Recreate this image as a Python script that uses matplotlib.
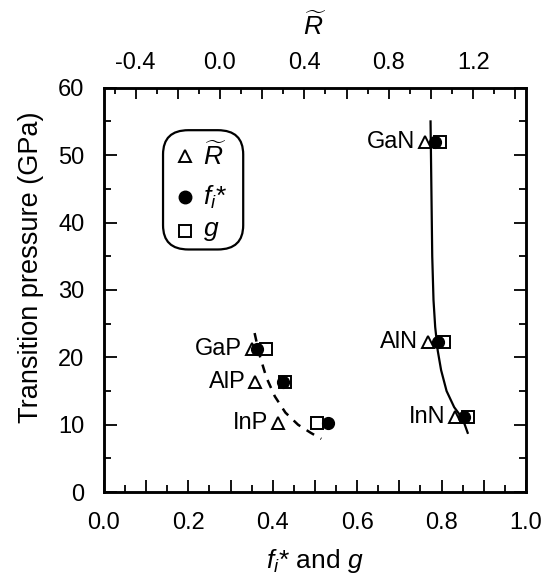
import numpy as np
import matplotlib.pyplot as plt
from matplotlib.ticker import MultipleLocator, FuncFormatter
from matplotlib.patches import FancyBboxPatch

plt.rcParams['font.family'] = ['Liberation Sans', 'DejaVu Sans']
plt.rcParams['mathtext.fontset'] = 'custom'
plt.rcParams['mathtext.it'] = 'Liberation Sans:italic'
plt.rcParams['mathtext.rm'] = 'Liberation Sans'

# --- data ---
compounds = ['GaN', 'AlN', 'InN', 'GaP', 'AlP', 'InP']
pressure = [51.9, 22.2, 11.1, 21.2, 16.3, 10.2]      # GPa
fi_star = [0.785, 0.792, 0.853, 0.363, 0.424, 0.531]
g_val = [0.796, 0.806, 0.863, 0.384, 0.430, 0.505]
r_tilde = [0.97, 0.986, 1.113, 0.151, 0.166, 0.275]

# solid guide curve (nitrides) and dashed guide curve (phosphides)
nitride_x = [0.774, 0.776, 0.778, 0.781, 0.785, 0.791, 0.799, 0.812, 0.830, 0.850, 0.862]
nitride_p = [55.0, 45.0, 35.0, 28.5, 24.5, 21.0, 18.1, 15.0, 12.6, 10.9, 8.8]
phos_x = [0.357, 0.368, 0.385, 0.405, 0.430, 0.460, 0.490, 0.515]
phos_p = [23.6, 20.5, 17.0, 14.2, 11.8, 10.0, 8.8, 7.9]

fig = plt.figure(figsize=(5.53, 5.81), dpi=100)
ax = fig.add_axes([0.188, 0.153, 0.763, 0.696])
ax2 = ax.twiny()

lw = 1.8
for a in (ax, ax2):
    for s in a.spines.values():
        s.set_linewidth(lw)

ax.plot(nitride_x, nitride_p, '-', color='black', lw=1.6)
ax.plot(phos_x, phos_p, '--', color='black', lw=1.8, dashes=(3.5, 3))

ax.plot(g_val, pressure, 's', mfc='white', mec='black', mew=1.4, ms=8, ls='none')
ax.plot(fi_star, pressure, 'o', color='black', ms=8.5, ls='none')
ax2.plot(r_tilde, pressure, '^', mfc='none', mec='black', mew=1.4, ms=8.5, ls='none')

# compound labels beside triangles
r_min, r_max = -0.55, 1.45
for name, r, p in zip(compounds, r_tilde, pressure):
    ax2.annotate(name, (r, p), xytext=(-7, 0), textcoords='offset points',
                 ha='right', va='center', fontsize=17)

ax.set_xlim(0, 1)
ax.set_ylim(0, 60)
ax2.set_xlim(r_min, r_max)

ax.xaxis.set_major_locator(MultipleLocator(0.1))
ax.xaxis.set_minor_locator(MultipleLocator(0.05))
ax.xaxis.set_major_formatter(FuncFormatter(
    lambda v, _: f'{v:.1f}' if round(v * 10) % 2 == 0 else ''))
ax.yaxis.set_major_locator(MultipleLocator(10))
ax.yaxis.set_minor_locator(MultipleLocator(5))
ax2.xaxis.set_major_locator(MultipleLocator(0.2))
ax2.xaxis.set_minor_locator(MultipleLocator(0.1))
ax2.xaxis.set_major_formatter(FuncFormatter(
    lambda v, _: f'{v:.1f}' if round(v * 10) % 4 == 0 else ''))

ax.tick_params(which='both', direction='in', right=True, width=1.3, labelsize=17)
ax.tick_params(axis='x', pad=14)
ax.tick_params(axis='y', pad=14)
ax.tick_params(which='major', length=9)
ax.tick_params(which='minor', length=5)
ax2.tick_params(which='both', direction='in', width=1.3, labelsize=17, pad=10)
ax2.tick_params(which='major', length=8)
ax2.tick_params(which='minor', length=4)

ax.set_ylabel('Transition pressure (GPa)', fontsize=19.5)
ax.yaxis.set_label_coords(-0.142, 0.555)
ax.set_xlabel(r'$f_i$* and $g$', fontsize=19, labelpad=10)
ax2.set_xlabel(r'$\widetilde{R}$', fontsize=19, labelpad=12)

# legend box
box = FancyBboxPatch((0.14, 0.60), 0.19, 0.295, boxstyle='round,pad=0,rounding_size=0.06',
                     transform=ax.transAxes, fc='white', ec='black', lw=1.6, zorder=5)
ax.add_patch(box)
ax.plot([0.192], [0.832], '^', mfc='none', mec='black', mew=1.4, ms=8, transform=ax.transAxes, zorder=6)
ax.plot([0.192], [0.73], 'o', color='black', ms=9, transform=ax.transAxes, zorder=6)
ax.plot([0.192], [0.646], 's', mfc='white', mec='black', mew=1.4, ms=8, transform=ax.transAxes, zorder=6)
ax.text(0.235, 0.832, r'$\widetilde{R}$', transform=ax.transAxes, fontsize=19, va='center', zorder=6)
ax.text(0.235, 0.73, r'$f_i$*', transform=ax.transAxes, fontsize=19, va='center', zorder=6)
ax.text(0.235, 0.646, r'$g$', transform=ax.transAxes, fontsize=19, va='center', zorder=6)

fig.savefig('out.png', dpi=100)
